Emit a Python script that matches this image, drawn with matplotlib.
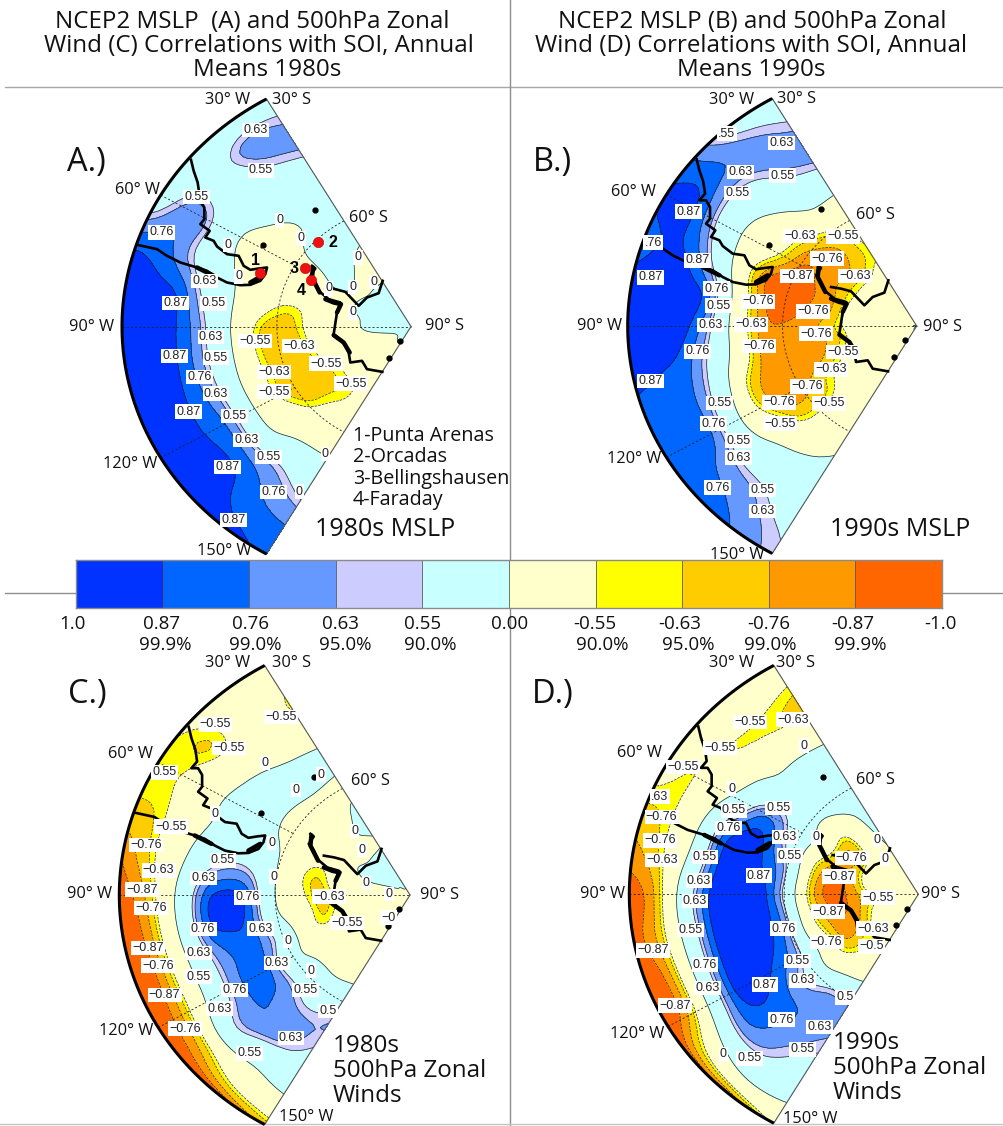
import numpy as np
import matplotlib
matplotlib.use("Agg")
import matplotlib.pyplot as plt
from matplotlib.lines import Line2D

W, H = 1004, 1126
FONT = "Open Sans"
LABEL_FONT = "Liberation Sans"

LONS = [30, 40, 50, 60, 70, 80, 90, 100, 110, 120, 130, 140, 150]
LATS = [30, 35, 40, 45, 50, 55, 60, 65, 70, 75, 80, 90]
LEVELS = [-1.0, -0.87, -0.76, -0.63, -0.55, 0.0, 0.55, 0.63, 0.76, 0.87, 1.0]
BAR_COLOURS = ["#0033ff", "#0066ff", "#6699ff", "#ccccff", "#c8ffff",
               "#ffffcc", "#ffff00", "#ffcc00", "#ff9900", "#ff6600"]
BAR_LABELS = ["1.0", "0.87", "0.76", "0.63", "0.55", "0.00", "-0.55", "-0.63", "-0.76", "-0.87", "-1.0"]
SIG_LABELS = ["99.9%", "99.0%", "95.0%", "90.0%", "90.0%", "95.0%", "99.0%", "99.9%"]

# one row per longitude, one value per latitude
MSLP_1980s = [
    [.35, .60, .70, .48, .30, .20, .10, .05, -.10, -.10, .10, .10],
    [.22, .70, .60, .35, .20, .10, .10, .10, .00, -.10, .10, .10],
    [.15, .40, .32, .20, .05, -.10, .05, .10, .10, -.05, .05, .10],
    [.30, .70, .65, .10, -.10, -.20, -.15, -.10, .02, -.02, .05, .10],
    [.82, .80, .57, .20, -.05, -.15, -.25, -.20, -.10, -.02, .05, .10],
    [.93, .90, .85, .45, .04, -.30, -.55, -.55, -.15, -.05, .02, .10],
    [.95, .92, .87, .60, .05, -.56, -.70, -.60, -.20, -.10, .03, .10],
    [.95, .92, .86, .58, .05, -.56, -.72, -.66, -.30, -.10, -.02, .10],
    [.95, .92, .85, .62, .02, -.52, -.72, -.72, -.42, -.20, -.10, .10],
    [.95, .93, .85, .70, .04, -.52, -.72, -.70, -.60, -.30, -.15, .10],
    [.97, .94, .88, .65, .02, -.25, -.60, -.65, -.60, -.30, -.15, .10],
    [.92, .82, .76, .63, .30, -.15, -.30, -.52, -.58, -.20, -.10, .10],
    [.84, .79, .66, .40, .10, -.05, -.20, -.30, -.20, -.15, -.10, .10],
]
MSLP_1990s = [
    [.35, .53, .70, .65, .30, -.15, -.35, -.50, -.58, -.40, -.20, .02],
    [.40, .70, .68, .52, .20, -.10, -.60, -.74, -.68, -.52, -.30, .02],
    [.74, .80, .55, .15, -.10, -.45, -.75, -.82, -.77, -.50, -.30, .02],
    [.89, .92, .60, .05, -.20, -.54, -.88, -.84, -.74, -.50, -.25, .02],
    [.82, .88, .80, .30, -.45, -.90, -.95, -.88, -.78, -.45, -.20, .02],
    [.90, .95, .92, .78, -.20, -.84, -.92, -.86, -.78, -.40, -.15, .02],
    [.94, .95, .92, .62, -.20, -.80, -.86, -.82, -.68, -.45, -.15, .02],
    [.91, .88, .81, .45, -.20, -.80, -.84, -.86, -.74, -.50, -.20, .02],
    [.84, .81, .76, .30, -.57, -.82, -.86, -.84, -.67, -.40, -.20, .02],
    [.83, .81, .76, .10, -.57, -.82, -.82, -.67, -.52, -.35, -.20, .02],
    [.83, .77, .60, .15, -.15, -.62, -.68, -.60, -.35, -.25, -.15, .02],
    [.77, .68, .55, .25, .00, -.25, -.35, -.30, -.20, -.15, -.10, .02],
    [.57, .50, .30, .20, .10, -.02, -.15, -.20, -.15, -.10, -.10, .02],
]
ZONAL_1980s = [
    [-.30, -.52, -.60, -.30, .03, .05, -.10, .05, .05, -.02, .05, -.02],
    [-.20, -.30, -.30, -.15, .05, .10, -.10, -.10, .00, -.05, .05, -.02],
    [-.50, -.68, -.50, -.05, .10, .05, -.10, -.12, -.10, -.05, .03, -.02],
    [-.58, -.54, -.20, .05, .15, .05, -.10, -.15, -.15, -.02, .03, -.02],
    [-.64, -.60, -.20, .05, .25, .15, -.03, -.42, -.52, -.08, .00, -.02],
    [-.86, -.60, -.15, .40, .60, .52, -.02, -.52, -.64, -.15, .00, -.02],
    [-.94, -.74, .02, .78, .92, .78, -.02, -.45, -.70, -.40, -.03, -.02],
    [-.95, -.80, .02, .80, .90, .78, .05, -.30, -.68, -.40, -.05, -.02],
    [-.97, -.82, -.05, .58, .79, .78, .40, -.30, -.60, -.20, -.05, -.02],
    [-.95, -.77, .02, .60, .82, .74, .10, -.10, -.20, -.15, -.10, -.02],
    [-.97, -.62, .45, .72, .76, .68, .30, -.05, -.15, -.12, -.10, -.02],
    [-.97, -.25, .10, .65, .71, .52, .20, -.05, -.10, -.10, -.08, -.02],
    [-.72, -.15, .25, .45, .58, .64, .30, -.02, -.10, -.10, -.08, -.02],
]
ZONAL_1990s = [
    [-.30, -.58, -.68, -.30, .10, .15, .20, .15, .08, .02, -.05, -.10],
    [-.30, -.45, -.60, -.20, .10, .20, .30, -.05, -.15, -.15, -.10, -.10],
    [-.20, -.52, -.52, -.10, .10, .30, .15, -.35, -.68, -.50, -.15, -.10],
    [-.40, -.58, -.30, .15, .72, .68, .20, -.10, -.78, -.72, -.10, -.10],
    [-.64, -.57, -.10, .74, .92, .82, .40, -.47, -.80, -.67, -.25, -.10],
    [-.80, -.60, .02, .82, .97, .86, .60, -.57, -.90, -.77, -.30, -.10],
    [-.94, -.74, .35, .92, .97, .94, .52, -.62, -.92, -.82, -.57, -.10],
    [-.92, -.68, .30, .92, .98, .92, .64, -.52, -.88, -.84, -.57, -.10],
    [-.97, -.77, .30, .92, .98, .90, .62, -.42, -.82, -.82, -.47, -.10],
    [-.97, -.72, .40, .94, .92, .80, .57, -.20, -.82, -.74, -.40, -.10],
    [-.97, -.15, .64, .82, .82, .68, .35, -.30, -.68, -.57, -.30, -.10],
    [-.92, .20, .55, .68, .74, .72, .57, -.10, -.45, -.57, -.30, -.10],
    [-.52, .05, .30, .50, .62, .68, .58, .00, -.20, -.50, -.30, -.10],
]

# coastlines and stations, digitised in map units (1/867 of the x radius, 1/788 of the y radius)
COAST_SOUTH_AMERICA = [(572, 222), (580, 255), (592, 290), (597, 325), (580, 345), (600, 345), (612, 365),
                       (612, 400), (600, 415), (628, 435), (615, 455), (640, 465), (650, 482), (680, 505),
                       (715, 510), (730, 540), (750, 552), (775, 548), (800, 545), (795, 565), (780, 585),
                       (750, 597), (720, 598), (680, 590), (650, 575), (620, 555), (590, 545), (540, 530),
                       (500, 510), (470, 490), (415, 478)]
COAST_PENINSULA = [(935, 540), (945, 548), (930, 570), (945, 590), (955, 615), (985, 640), (1020, 650),
                   (1010, 680), (1000, 745), (1030, 770), (1045, 800), (1050, 830), (1085, 825), (1100, 850),
                   (1146, 858)]
COAST_WEDDELL = [(975, 605), (1005, 610), (1035, 618), (1075, 660), (1100, 635), (1135, 622), (1147, 585)]
COAST_THICK = [[(590, 545), (640, 570)], [(750, 590), (785, 570)], [(938, 545), (935, 575), (958, 620)],
               [(975, 640), (1000, 650), (1022, 655), (1010, 680)], [(1000, 748), (1030, 770), (1048, 800)]]
ISLANDS = [(788, 478), (945, 372), (1165, 815), (1198, 765)]
STATIONS = [(780, 562), (952, 470), (914, 548), (932, 583)]
STATION_NAMES = ["1-Punta Arenas", "2-Orcadas", "3-Bellingshausen", "4-Faraday"]
COAST_APEX = (1232, 722)

M = "\u2212"
LABELS_A = [(765,133,"0.63"),(782,254,"0.55"),(588,333,"0.55"),(483,440,"0.76"),(838,402,"0"),(683,477,"0"),
    (902,458,"0"),(1073,515,"0"),(715,572,"0"),(612,585,"0.63"),(985,608,"0"),(1058,603,"0"),(1120,588,"0"),
    (525,652,"0.87"),(640,653,"0.55"),(1057,680,"0"),(632,754,"0.63"),(763,765,M+"0.55"),(897,780,M+"0.63"),
    (523,811,"0.87"),(647,815,"0.55"),(978,833,M+"0.55"),(820,859,M+"0.63"),(598,873,"0.76"),(1052,893,M+"0.55"),
    (822,917,M+"0.55"),(647,923,"0.63"),(565,977,"0.87"),(702,990,"0.55"),(738,1062,"0.63"),(805,1114,"0.55"),
    (975,1105,"0"),(682,1144,"0.87"),(820,1219,"0.76"),(897,1217,"0"),(700,1302,"0.87")]
LABELS_B = [(650,145,".55"),(815,173,"0.63"),(692,260,"0.63"),(817,271,"0.55"),(682,323,"0.55"),(535,379,"0.87"),
    (870,452,M+"0.63"),(998,453,M+"0.55"),(430,472,".76"),(950,520,M+"0.76"),(563,525,"0.87"),(422,576,"0.87"),
    (862,572,M+"0.87"),(1035,572,M+"0.63"),(620,610,"0.76"),(745,648,M+"0.76"),(625,661,"0.55"),(910,678,M+"0.76"),
    (602,719,"0.63"),(722,717,M+"0.63"),(918,745,M+"0.76"),(748,782,M+"0.76"),(562,798,"0.76"),(998,800,M+"0.55"),
    (962,852,M+"0.63"),(422,887,"0.87"),(890,903,M+"0.76"),(808,951,M+"0.76"),(628,953,"0.55"),(958,954,M+"0.55"),
    (810,1015,M+"0.55"),(610,1015,"0.76"),(685,1066,"0.55"),(685,1117,"0.63"),(623,1207,"0.76"),(757,1214,"0.55"),
    (758,1277,"0.63")]
LABELS_C = [(650,228,M+"0.55"),(845,205,M+"0.55"),(690,298,M+"0.55"),(798,343,"0"),(965,377,"0"),(497,370,"0.55"),
    (890,423,"0"),(648,493,"0"),(518,532,M+"0.55"),(1065,545,"0"),(443,587,M+"0.76"),(817,580,"0"),(1087,600,"0"),
    (672,632,"0.55"),(480,662,M+"0.63"),(614,685,"0.63"),(823,680,"0"),(1100,700,"0"),(432,719,M+"0.87"),
    (745,742,"0.76"),(988,740,M+"0.63"),(1168,732,"0"),(458,773,M+"0.76"),(1165,802,M+"0"),(1042,819,M+"0.55"),
    (785,835,"0.63"),(613,836,"0.76"),(865,872,"0"),(450,893,M+"0.87"),(600,907,"0.63"),(833,937,"0.63"),
    (478,945,M+"0.76"),(935,960,"0"),(600,978,"0.55"),(918,1017,"0.55"),(498,1033,M+"0.87"),(706,1018,"0.76"),
    (662,1073,"0.63"),(985,1080,"0.5"),(560,1132,M+"0.76"),(875,1160,"0.63"),(752,1206,"0.55")]
LABELS_D = [(720,220,M+"0.55"),(850,212,M+"0.63"),(630,297,M+"0.55"),(882,290,"0"),(518,353,M+"0.55"),(665,418,"0"),
    (450,442,".63"),(672,483,"0.55"),(805,475,"0.55"),(455,502,M+"0.76"),(655,535,"0.76"),(825,562,"0.63"),
    (918,563,"0"),(1102,570,"0"),(450,572,M+"0.76"),(585,622,"0.55"),(840,618,"0.55"),(1025,625,M+"0.76"),
    (1125,628,"0"),(455,630,M+"0.63"),(747,677,"0.87"),(987,680,M+"0.87"),(567,692,"0.63"),(555,753,"0.63"),
    (1105,743,M+"0.55"),(955,785,M+"0.87"),(542,840,"0.55"),(820,835,"0.76"),(1090,835,M+"0.63"),(430,900,M+"0.87"),
    (950,875,M+"0.76"),(1085,888,M+"0.5"),(585,943,"0.76"),(862,932,"0.55"),(878,990,"0.63"),(592,1012,"0.63"),
    (765,1002,"0.87"),(1005,1040,"0.5"),(495,1065,M+"0.87"),(815,1107,"0.76"),(928,1128,"0.63"),(878,1195,"0.55"),
    (640,1210,"0"),(718,1222,"0.55")]

TICKS = ["30\u00b0 W", "30\u00b0 S", "60\u00b0 W", "60\u00b0 S", "90\u00b0 W", "90\u00b0 S", "120\u00b0 W", "150\u00b0 W"]
TICKS_A = [(683,45),(875,45),(412,315),(1105,398),(275,727),(1333,722),(390,1137),(672,1398)]
TICKS_B = [(665,45),(860,43),(370,320),(1095,390),(268,722),(1297,725),(372,1122),(683,1410)]
TICKS_C = [(682,38),(873,38),(392,312),(1110,392),(270,732),(1320,735),(380,1143),(918,1400)]
TICKS_D = [(665,38),(858,38),(390,310),(1095,390),(277,733),(1293,733),(383,1152),(900,1408)]

PANELS = [
    dict(z=MSLP_1980s, letter="A.)", apex=(411.0, 326.5), xr=289.0, yr=262.7, origin=(0, 85), zapex=(1232, 722),
         labels=LABELS_A, ticks=TICKS_A, lpos=(86, 163), stations=True),
    dict(z=MSLP_1990s, letter="B.)", apex=(916.7, 326.0), xr=289.0, yr=262.7, origin=(510, 85), zapex=(1220, 722),
         labels=LABELS_B, ticks=TICKS_B, lpos=(552, 163), stations=False),
    dict(z=ZONAL_1980s, letter="C.)", apex=(410.0, 895.0), xr=290.7, yr=265.0, origin=(0, 650), zapex=(1230, 735),
         labels=LABELS_C, ticks=TICKS_C, lpos=(87, 695), stations=False),
    dict(z=ZONAL_1990s, letter="D.)", apex=(918.3, 894.3), xr=289.0, yr=264.3, origin=(510, 650), zapex=(1225, 733),
         labels=LABELS_D, ticks=TICKS_D, lpos=(553, 695), stations=False),
]


def radius(lat):
    return np.tan(np.radians((90 - np.asarray(lat, float)) / 2)) / np.tan(np.radians(30))


def project(lon, lat):
    th = np.radians(90 - np.asarray(lon, float))
    r = radius(lat)
    return -r * np.cos(th), r * np.sin(th)


def cubic_axis(a, n, axis):
    a = np.moveaxis(np.asarray(a, float), axis, 0)
    m = a.shape[0]
    t = np.linspace(0, m - 1, (m - 1) * n + 1)
    i = np.clip(np.floor(t).astype(int), 0, m - 2)
    f = (t - i)[(...,) + (None,) * (a.ndim - 1)]
    p0 = a[np.clip(i - 1, 0, m - 1)]
    p1, p2 = a[i], a[i + 1]
    p3 = a[np.clip(i + 2, 0, m - 1)]
    out = 0.5 * (2 * p1 + (p2 - p0) * f + (2 * p0 - 5 * p1 + 4 * p2 - p3) * f ** 2 + (3 * p1 - p0 - 3 * p2 + p3) * f ** 3)
    return np.moveaxis(out, 0, axis)


def soften(a, k=5):
    """Light box filter so the drawn contours are as round as in the source map."""
    kernel = np.ones(k) / k
    pad = k // 2
    for axis in (0, 1):
        b = np.moveaxis(a, axis, 0)
        b = np.concatenate([np.repeat(b[:1], pad, 0), b, np.repeat(b[-1:], pad, 0)], 0)
        b = np.apply_along_axis(lambda v: np.convolve(v, kernel, mode="valid"), 0, b)
        a = np.moveaxis(b, 0, axis)
    return a


fig = plt.figure(figsize=(W / 100, H / 100), dpi=100, facecolor="white")


def fx(x):
    return x / W


def fy(y):
    return 1 - y / H


def fig_text(x, y, s, size, ha="center", **kw):
    fig.text(fx(x), fy(y), s, fontsize=size, ha=ha, va="center", family=FONT, color="#111111", **kw)


for xs, ys, c in [((5, 1004), (87, 87), "#a8a8a8"), ((510, 510), (0, 1126), "#8c8c8c"),
                  ((5, 1004), (593, 593), "#909090"), ((0, 1004), (1124, 1124), "#c4c4c4")]:
    fig.add_artist(Line2D([fx(xs[0]), fx(xs[1])], [fy(ys[0]), fy(ys[1])], color=c, lw=1.0, zorder=0))

lon_fine = cubic_axis(np.array(LONS, float), 6, 0)
lat_fine = cubic_axis(np.array(LATS, float), 6, 0)
LON, LAT = np.meshgrid(lon_fine, lat_fine, indexing="ij")
GX, GY = project(LON, LAT)
fill_colours = BAR_COLOURS[::-1]
styles = ["--" if v < 0 else "-" for v in LEVELS[1:-1]]

for p in PANELS:
    ax0, ay0 = p["apex"]
    xr, yr = p["xr"], p["yr"]
    left, right = ax0 - 1.08 * xr, ax0 + 0.06 * xr
    bottom, top = ay0 + 1.02 * yr, ay0 - 1.02 * yr
    ax = fig.add_axes([fx(left), fy(bottom), (right - left) / W, (bottom - top) / H])
    ax.set_xlim(-1.08, 0.06)
    ax.set_ylim(-1.02, 1.02)
    ax.axis("off")
    ax.patch.set_alpha(0)

    z = soften(cubic_axis(cubic_axis(p["z"], 6, 0), 6, 1))
    z = np.clip(z, -0.995, 0.995)
    ax.contourf(GX, GY, z, levels=LEVELS, colors=fill_colours, zorder=1)
    ax.contour(GX, GY, z, levels=LEVELS[1:-1], colors="#222222", linewidths=0.5, linestyles=styles, zorder=2)

    # graticule
    arc = np.linspace(30, 150, 121)
    gx, gy = project(arc, np.full_like(arc, 60.0))
    ax.plot(gx, gy, color="#222222", lw=0.6, ls=(0, (2.5, 2.5)), zorder=3)
    for lon, end in [(60, 60), (90, 90), (120, 60)]:
        gx, gy = project([lon, lon], [30, end])
        ax.plot(gx, gy, color="#222222", lw=0.6, ls=(0, (2.5, 2.5)), zorder=3)
    for lon in (30, 150):
        gx, gy = project([lon, lon], [30, 90])
        ax.plot(gx, gy, color="#555555", lw=0.8, zorder=3)

    # coastlines
    cx, cy = COAST_APEX
    for line in (COAST_SOUTH_AMERICA, COAST_PENINSULA, COAST_WEDDELL):
        a = np.array(line, float)
        ax.plot((a[:, 0] - cx) / 867, (cy - a[:, 1]) / 788, color="black", lw=1.9, solid_joinstyle="round", zorder=4)
    for line in COAST_THICK:
        a = np.array(line, float)
        ax.plot((a[:, 0] - cx) / 867, (cy - a[:, 1]) / 788, color="black", lw=3.2, solid_capstyle="round", zorder=4)
    isl = np.array(ISLANDS, float)
    ax.plot((isl[:, 0] - cx) / 867, (cy - isl[:, 1]) / 788, ls="none", marker="o", ms=3.5, color="black", zorder=4)

    # outer rim
    gx, gy = project(arc, np.full_like(arc, 30.0))
    ax.plot(gx, gy, color="black", lw=2.2, solid_capstyle="butt", zorder=5, clip_on=False)

    zx, zy = p["zapex"]
    to_u = lambda X: (X - zx) / 867
    to_v = lambda Y: (zy - Y) / 788
    for X, Y, s in p["labels"]:
        ax.text(to_u(X), to_v(Y), s, fontsize=9, family=LABEL_FONT, color="#222222", ha="center", va="center", zorder=6,
                bbox=dict(boxstyle="square,pad=0.1", fc="white", ec="none"), clip_on=False)

    ox, oy = p["origin"]
    for (X, Y), s in zip(p["ticks"], TICKS):
        fig_text(ox + X / 3, oy + Y / 3, s, 11.8)
    fig_text(p["lpos"][0], p["lpos"][1], p["letter"], 23.5)

    if p["stations"]:
        st = np.array(STATIONS, float)
        ax.plot((st[:, 0] - cx) / 867, (cy - st[:, 1]) / 788, ls="none", marker="o", ms=7.5,
                color="#ee1111", mec="#cc0000", mew=0.4, zorder=7)
        for (X, Y), s in zip([(765, 525), (997, 470), (880, 548), (903, 615)], "1234"):
            ax.text(to_u(X), to_v(Y), s, fontsize=11.5, fontweight="bold", family=LABEL_FONT,
                    ha="center", va="center", zorder=7)

# titles
for lines, xs in [(["NCEP2 MSLP  (A) and 500hPa Zonal", "Wind (C) Correlations with SOI, Annual", "Means 1980s"], (252, 259, 267)),
                  (["NCEP2 MSLP (B) and 500hPa Zonal", "Wind (D) Correlations with SOI, Annual", "Means 1990s"], (752, 751, 751))]:
    for x, y, s in zip(xs, (22, 46, 70), lines):
        fig_text(x, y, s, 17.4)

for y, s in zip((436, 457, 479, 500), STATION_NAMES):
    fig_text(353, y, s, 14.2, ha="left")
fig_text(315, 530, "1980s MSLP", 18, ha="left")
fig_text(830, 530, "1990s MSLP", 18, ha="left")
for y, s in zip((1046, 1071, 1096), ("1980s", "500hPa Zonal", "Winds")):
    fig_text(333, y, s, 17.4, ha="left")
for y, s in zip((1043, 1068, 1093), ("1990s", "500hPa Zonal", "Winds")):
    fig_text(833, y, s, 17.4, ha="left")

# colour bar
cb = fig.add_axes([fx(76), fy(608), (942 - 76) / W, 48 / H])
edges = np.linspace(0, 10, 11)
for i, c in enumerate(BAR_COLOURS):
    cb.bar(edges[i], 1, width=1, align="edge", color=c, edgecolor="#555555", linewidth=0.5)
cb.set_xlim(0, 10)
cb.set_ylim(0, 1)
cb.set_xticks([])
cb.set_yticks([])
for s in cb.spines.values():
    s.set_color("#8a8a8a")
    s.set_linewidth(1.0)

for x, s in zip((72, 162, 251, 340, 423, 510, 595, 680, 769, 853, 940), BAR_LABELS):
    fig_text(x, 624, s, 13.5)
for x, s in zip((165, 255, 345, 430, 602, 688, 770, 860), SIG_LABELS):
    fig_text(x, 645, s, 13.5)

fig.savefig("out.png", dpi=100)
